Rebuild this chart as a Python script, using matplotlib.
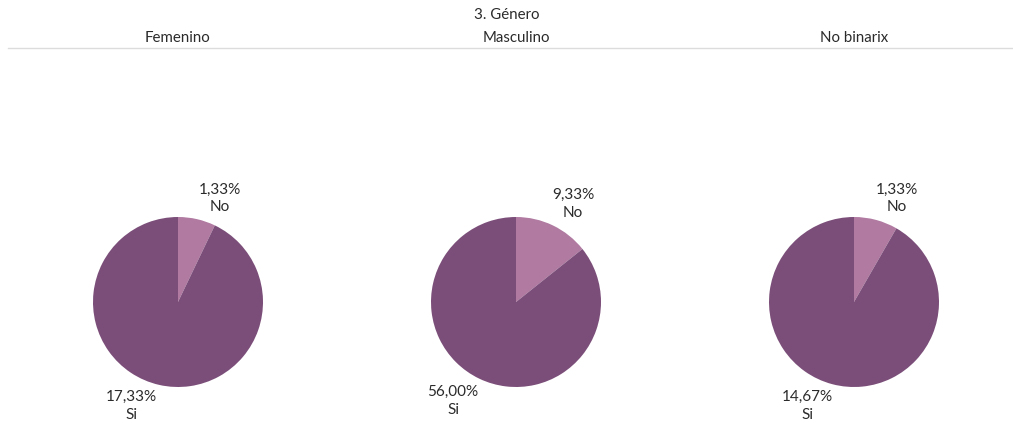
import matplotlib
matplotlib.use("Agg")
import matplotlib.pyplot as plt
from matplotlib.lines import Line2D

plt.rcParams['font.family'] = ['Lato', 'DejaVu Sans']

title = "3. Género"
groups = ["Femenino", "Masculino", "No binarix"]
slice_labels = ["No", "Si"]
no_values = [1.33, 9.33, 1.33]
si_values = [17.33, 56.00, 14.67]
colors = ["#b07aa1", "#7b4e79"]

W, H = 1013, 423
fig = plt.figure(figsize=(W / 100, H / 100), dpi=100)
ax = fig.add_axes([0, 0, 1, 1])

centers_x = [178, 516, 854]
cy = H - 302
radius = 85
# label offsets (pixels, relative to pie center) for No and Si labels
no_off = [(42, 103.5), (57, 98), (43, 103.5)]
si_off = [(-47, -104), (-63, -99), (-47, -104)]

def fmt(v):
    return f"{v:.2f}".replace(".", ",") + "%"

txt_color = "#2b2b2b"
for i, g in enumerate(groups):
    cx = centers_x[i]
    ax.pie([no_values[i], si_values[i]], colors=colors, startangle=90,
           counterclock=False, center=(cx, cy), radius=radius,
           wedgeprops=dict(linewidth=0), frame=True)
    ax.text(cx + no_off[i][0], cy + no_off[i][1], fmt(no_values[i]) + "\n" + slice_labels[0],
            ha="center", va="center", fontsize=11, color=txt_color, linespacing=1.35)
    ax.text(cx + si_off[i][0], cy + si_off[i][1], fmt(si_values[i]) + "\n" + slice_labels[1],
            ha="center", va="center", fontsize=11, color=txt_color, linespacing=1.35)
    ax.text(cx, H - 38, g, ha="center", va="center", fontsize=10.8, color=txt_color)

ax.set_xlim(0, W)
ax.set_ylim(0, H)
ax.set_aspect("auto")
ax.axis("off")

ax.text(W / 2, H - 15, title, ha="center", va="center", fontsize=10.8, color=txt_color)
ax.add_line(Line2D([8, W], [H - 47.5, H - 47.5], color="#dcdcdc", linewidth=1))

fig.savefig("out.png", dpi=100)
